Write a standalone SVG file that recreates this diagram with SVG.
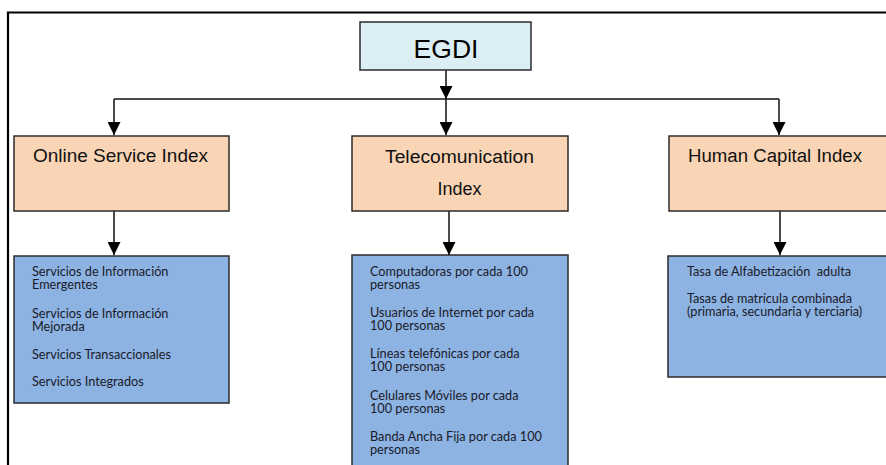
<svg xmlns="http://www.w3.org/2000/svg" width="886" height="465" viewBox="0 0 886 465">
<style>
.box{stroke:#2b2b2b;stroke-width:1.5}
.top{fill:#dbeef4}
.hdr{fill:#fad5b5}
.det{fill:#8db3e2}
.h{font-family:"Liberation Sans",Arial,sans-serif;font-size:18px;fill:#111}
.t{font-family:Lato,"Liberation Sans",sans-serif;font-size:12.7px;fill:#1a1a2a}
.c{fill:none;stroke:#111;stroke-width:1.5}
</style>
<defs>
<marker id="ah" viewBox="0 0 10 10" markerUnits="userSpaceOnUse" markerWidth="13" markerHeight="13" refX="10" refY="5" orient="auto">
<path d="M0,0 L10,5 L0,10 z" fill="#000"/>
</marker>
</defs>
<rect width="886" height="465" fill="#fff"/>
<path d="M8,465 V12.5 H886" fill="none" stroke="#000" stroke-width="2.2"/>
<g id="connectors">
<path class="c" d="M446,70 L446,99" marker-end="url(#ah)"/>
<path class="c" d="M114,99 H779" style="stroke-width:1.3"/>
<path class="c" d="M114,99 V135" marker-end="url(#ah)"/>
<path class="c" d="M446,99 V135" marker-end="url(#ah)"/>
<path class="c" d="M779,99 V135" marker-end="url(#ah)"/>
<path class="c" d="M114,211 L114,255" marker-end="url(#ah)"/>
<path class="c" d="M449,211 L449,255" marker-end="url(#ah)"/>
<path class="c" d="M780,211 L780,255" marker-end="url(#ah)"/>
</g>
<g id="egdi">
<rect class="box top" x="360" y="22" width="171" height="48"/>
<text x="446" y="58" text-anchor="middle" style="font-family:'Liberation Sans',Arial,sans-serif;font-size:26.5px;fill:#000">EGDI</text>
</g>
<g id="osi">
<rect class="box hdr" x="14" y="136" width="215" height="75"/>
<text class="h" x="33" y="162" textLength="175" lengthAdjust="spacingAndGlyphs">Online Service Index</text>
</g>
<g id="tci">
<rect class="box hdr" x="352" y="136" width="216" height="75"/>
<text class="h" x="459.5" y="163" text-anchor="middle" textLength="149" lengthAdjust="spacingAndGlyphs">Telecomunication</text>
<text class="h" x="459.5" y="195" text-anchor="middle">Index</text>
</g>
<g id="hci">
<rect class="box hdr" x="669" y="136" width="230" height="75"/>
<text class="h" x="688" y="162" textLength="174" lengthAdjust="spacingAndGlyphs">Human Capital Index</text>
</g>
<g id="osi-items">
<rect class="box det" x="14" y="256" width="215" height="147"/>
<text class="t" x="32" y="276">Servicios de Información</text>
<text class="t" x="32" y="289">Emergentes</text>
<text class="t" x="32" y="318">Servicios de Información</text>
<text class="t" x="32" y="331">Mejorada</text>
<text class="t" x="32" y="359">Servicios Transaccionales</text>
<text class="t" x="32" y="386">Servicios Integrados</text>
</g>
<g id="tci-items">
<rect class="box det" x="352" y="255" width="216" height="220"/>
<text class="t" x="370" y="276">Computadoras por cada 100</text>
<text class="t" x="370" y="289">personas</text>
<text class="t" x="370" y="317">Usuarios de Internet por cada</text>
<text class="t" x="370" y="330">100 personas</text>
<text class="t" x="370" y="358">Líneas telefónicas por cada</text>
<text class="t" x="370" y="371">100 personas</text>
<text class="t" x="370" y="400">Celulares Móviles por cada</text>
<text class="t" x="370" y="413">100 personas</text>
<text class="t" x="370" y="441">Banda Ancha Fija por cada 100</text>
<text class="t" x="370" y="454">personas</text>
</g>
<g id="hci-items">
<rect class="box det" x="668" y="256" width="230" height="121"/>
<text class="t" x="687" y="276" xml:space="preserve">Tasa de Alfabetización  adulta</text>
<text class="t" x="687" y="303">Tasas de matrícula combinada</text>
<text class="t" x="687" y="316">(primaria, secundaria y terciaria)</text>
</g>
</svg>
